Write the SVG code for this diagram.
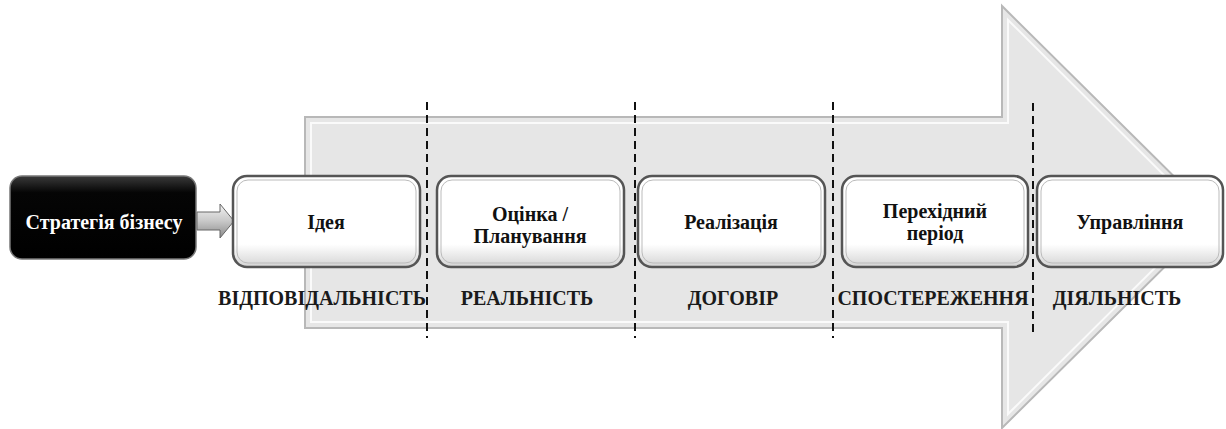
<svg xmlns="http://www.w3.org/2000/svg" width="1226" height="429" viewBox="0 0 1226 429">
<defs>
<style>
.box{fill:url(#wg);stroke:#555;stroke-width:2.5}
.inner{fill:none;stroke:#bbb;stroke-width:1}
.t{font-family:"Liberation Serif","Times New Roman",serif;font-weight:bold;font-size:20px;fill:#111;text-anchor:middle}
.lbl{font-family:"Liberation Serif","Times New Roman",serif;font-weight:bold;font-size:20px;fill:#1a1a1a;text-anchor:middle}
.dash{stroke:#111;stroke-width:2;stroke-dasharray:8,5;fill:none}
</style>
<linearGradient id="wg" x1="0" y1="0" x2="0" y2="1">
<stop offset="0" stop-color="#ffffff"/>
<stop offset="0.75" stop-color="#ffffff"/>
<stop offset="1" stop-color="#d4d4d4"/>
</linearGradient>
<linearGradient id="bg" x1="0" y1="0" x2="0" y2="1">
<stop offset="0" stop-color="#3a3a3a"/>
<stop offset="0.2" stop-color="#050505"/>
<stop offset="1" stop-color="#000"/>
</linearGradient>
<linearGradient id="ag" x1="0" y1="0" x2="0" y2="1">
<stop offset="0" stop-color="#f4f4f4"/>
<stop offset="0.5" stop-color="#c8c8c8"/>
<stop offset="1" stop-color="#8a8a8a"/>
</linearGradient>
</defs>
<rect width="1226" height="429" fill="#fff"/>
<g id="big-arrow">
<polygon points="305,117 1002,117 1002,6 1215,217 1002,428 1002,328 305,328" fill="#e6e6e6" stroke="#b8b8b8" stroke-width="2"/>
<polygon points="311,123 1008,123 1008,20 1206,217 1008,414 1008,322 311,322" fill="none" stroke="#fafafa" stroke-width="2"/>
</g>
<g id="connectors">
<polygon points="197,212 220,212 220,204 234,221 220,238 220,230 197,230" fill="url(#ag)" stroke="#666" stroke-width="1"/>
<line class="dash" x1="427" y1="102" x2="427" y2="338"/>
<line class="dash" x1="635" y1="102" x2="635" y2="338"/>
<line class="dash" x1="833" y1="102" x2="833" y2="338"/>
<line class="dash" x1="1033" y1="103" x2="1033" y2="333"/>
</g>
<g id="node-strategy">
<rect x="10" y="176" width="186" height="83" rx="12" fill="url(#bg)" stroke="#777" stroke-width="1.5"/>
<text class="t" x="104" y="229" style="fill:#fff">Стратегія бізнесу</text>
</g>
<g id="node-idea">
<rect class="box" x="233" y="176" width="187" height="91" rx="14"/>
<rect class="inner" x="237" y="180" width="179" height="83" rx="11"/>
<text class="t" x="326" y="229">Ідея</text>
</g>
<g id="node-plan">
<rect class="box" x="437" y="176" width="187" height="91" rx="14"/>
<rect class="inner" x="441" y="180" width="179" height="83" rx="11"/>
<text class="t" x="530" y="221">Оцінка /</text>
<text class="t" x="530" y="243">Планування</text>
</g>
<g id="node-real">
<rect class="box" x="638" y="176" width="187" height="91" rx="14"/>
<rect class="inner" x="642" y="180" width="179" height="83" rx="11"/>
<text class="t" x="731" y="229">Реалізація</text>
</g>
<g id="node-transit">
<rect class="box" x="842" y="176" width="186" height="91" rx="14"/>
<rect class="inner" x="846" y="180" width="178" height="83" rx="11"/>
<text class="t" x="935" y="218">Перехідний</text>
<text class="t" x="935" y="240">період</text>
</g>
<g id="node-manage">
<rect class="box" x="1037" y="176" width="186" height="91" rx="14"/>
<rect class="inner" x="1041" y="180" width="178" height="83" rx="11"/>
<text class="t" x="1130" y="229">Управління</text>
</g>
<g id="labels">
<text class="lbl" x="322" y="305">ВІДПОВІДАЛЬНІСТЬ</text>
<text class="lbl" x="527" y="305">РЕАЛЬНІСТЬ</text>
<text class="lbl" x="733" y="305">ДОГОВІР</text>
<text class="lbl" x="933" y="305">СПОСТЕРЕЖЕННЯ</text>
<text class="lbl" x="1117" y="305">ДІЯЛЬНІСТЬ</text>
</g>
</svg>
